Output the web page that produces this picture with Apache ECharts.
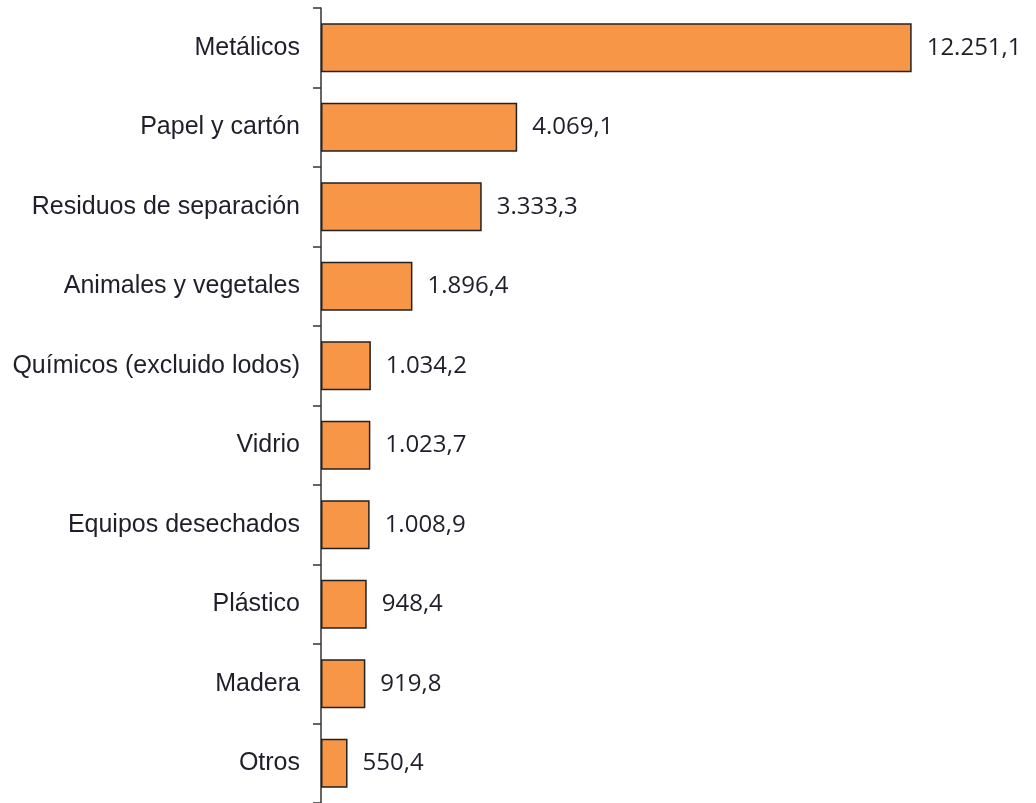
<!DOCTYPE html>
<html><head><meta charset="utf-8">
<script src="https://cdn.jsdelivr.net/npm/echarts@6/dist/echarts.min.js"></script>
<style>html,body{margin:0;padding:0;background:#fff}#c{width:1036px;height:803px}</style>
</head><body><div id="c"></div>
<script>
const categories = ["Metálicos","Papel y cartón","Residuos de separación","Animales y vegetales","Químicos (excluido lodos)","Vidrio","Equipos desechados","Plástico","Madera","Otros"];
const values = [12251.1,4069.1,3333.3,1896.4,1034.2,1023.7,1008.9,948.4,919.8,550.4];
function fmt(v){
  const parts = v.toFixed(1).split('.');
  const intp = parts[0].replace(/\B(?=(\d{3})+(?!\d))/g,'.');
  return intp + ',' + parts[1];
}
const chart = echarts.init(document.getElementById('c'));
chart.setOption({
  animation:false,
  grid:{left:321,right:40,top:8,bottom:0,containLabel:false},
  xAxis:{type:'value',min:0,max:14000,show:false},
  yAxis:{type:'category',inverse:true,data:categories,
    axisLine:{show:true,lineStyle:{color:'#333',width:1.5}},
    axisTick:{show:true,length:8,lineStyle:{color:'#333',width:1.5}},
    axisLabel:{margin:21,fontFamily:'Liberation Sans',fontSize:25,color:'#1f1f2a'}
  },
  series:[{type:'bar',data:values,barWidth:49,
    itemStyle:{color:'#F79646',borderColor:'#222',borderWidth:1.5},
    label:{show:true,position:'right',distance:15,fontFamily:'Open Sans',fontSize:24,color:'#1f1f2a',
      formatter:p=>fmt(p.value)}
  }]
});
</script></body></html>
